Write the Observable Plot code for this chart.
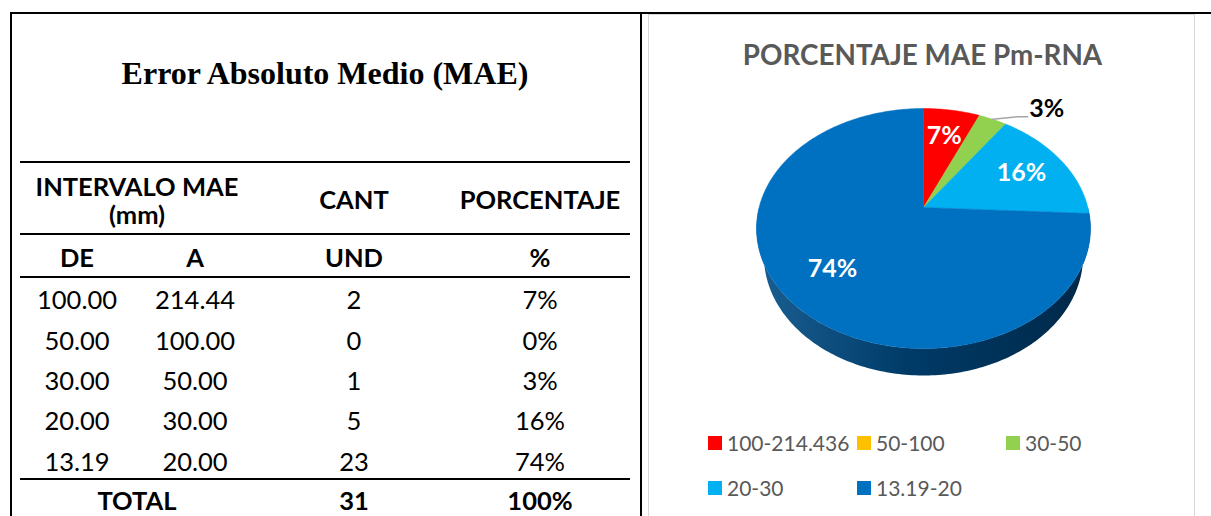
<!DOCTYPE html>
<html><head><meta charset="utf-8">
<script src="https://cdn.jsdelivr.net/npm/d3@7"></script>
<script src="https://cdn.jsdelivr.net/npm/@observablehq/plot@0.6"></script>
<style>
body{margin:0;background:#fff;width:1211px;height:516px;overflow:hidden;position:relative;font-family:Lato,"Open Sans",sans-serif;}
.hl{position:absolute;background:#000;}
.cell{position:absolute;width:260px;margin-left:-130px;text-align:center;line-height:30px;height:30px;margin-top:-15px;font-size:25.5px;color:#000;white-space:nowrap;}
.b{font-weight:bold;}
#title{position:absolute;left:10px;width:630px;top:53px;text-align:center;font-family:"Liberation Serif","Times New Roman",serif;font-weight:bold;font-size:32px;line-height:40px;}
#ptitle{position:absolute;left:650px;width:545px;top:39px;line-height:32px;text-align:center;font-weight:bold;font-size:27.8px;color:#595959;}
.lg{position:absolute;font-size:21px;color:#595959;line-height:24px;height:24px;margin-top:-12px;white-space:nowrap;}
.sw{position:absolute;width:14px;height:14px;margin-top:-7px;}
</style></head><body>
<script>
// ---------- data ----------
const intervalFrom = ["100.00","50.00","30.00","20.00","13.19"];
const intervalTo   = ["214.44","100.00","50.00","30.00","20.00"];
const counts       = [2, 0, 1, 5, 23];
const percents     = ["7%","0%","3%","16%","74%"];
const totalCount   = 31;
const totalPercent = "100%";
const legendLabels = ["100-214.436","50-100","30-50","20-30","13.19-20"];
const sliceColors  = ["#FF0000","#FFC000","#92D050","#00B0F0","#0070C0"];
const tableTitle   = "Error Absoluto Medio (MAE)";
const chartTitle   = "PORCENTAJE MAE Pm-RNA";
const headers      = {interval1:"INTERVALO MAE", interval2:"(mm)", cant:"CANT", pct:"PORCENTAJE", de:"DE", a:"A", und:"UND", pctU:"%", total:"TOTAL"};

// ---------- layout helpers ----------
const body = document.body;
function el(tag, cls, style, text){
  const e = document.createElement(tag);
  if (cls) e.className = cls;
  Object.assign(e.style, style||{});
  if (text!=null) e.textContent = text;
  body.appendChild(e); return e;
}
// frame lines
el("div","hl",{left:"10px",top:"12px",width:"1201px",height:"2px"});
el("div","hl",{left:"10px",top:"12px",width:"2px",height:"504px"});
el("div","hl",{left:"640px",top:"12px",width:"2px",height:"504px"});
[161, 233, 276, 478].forEach(y=>el("div","hl",{left:"20px",top:y+"px",width:"610px",height:"2px"}));
// chart panel border
el("div","",{position:"absolute",left:"648px",top:"14px",width:"547px",height:"520px",border:"1.5px solid #d9d9d9",boxSizing:"border-box"});

// table text
const t = el("div","",{}); t.id="title"; t.textContent = tableTitle;
const colX = [77, 195, 354, 540];
function cell(x,y,text,bold){ el("div","cell"+(bold?" b":""),{left:x+"px",top:y+"px"},text); }
cell(137,186,headers.interval1,true);
cell(137,214,headers.interval2,true);
cell(colX[2],199,headers.cant,true);
cell(colX[3],199,headers.pct,true);
cell(colX[0],257,headers.de,true);
cell(colX[1],257,headers.a,true);
cell(colX[2],257,headers.und,true);
cell(colX[3],257,headers.pctU,true);
const rowY = [299, 340, 380, 420, 461];
intervalFrom.forEach((v,i)=>{
  cell(colX[0],rowY[i],v);
  cell(colX[1],rowY[i],intervalTo[i]);
  cell(colX[2],rowY[i],String(counts[i]));
  cell(colX[3],rowY[i],percents[i]);
});
cell(137,500,headers.total,true);
cell(colX[2],500,String(totalCount),true);
cell(colX[3],500,totalPercent,true);

// chart title
const pt = el("div","",{}); pt.id="ptitle"; pt.textContent = chartTitle;

// ---------- 3D pie geometry (perspective projection of a tilted disc) ----------
const K=164.4, SA=0.7075, CA=0.7067, RD=0.2476, DEPTH=0.257;
function proj(theta, r, level){
  const X=r*Math.sin(theta), Z=r*Math.cos(theta), Y=level;
  const dn=1+RD*(Z*CA - Y*SA);
  return {x:K*X/dn, y:K*(Y*CA+Z*SA)/dn};
}
const total = d3.sum(counts);
let acc = 0;
const slices = counts.map((c,i)=>{
  const a0 = acc/total*2*Math.PI; acc += c; const a1 = acc/total*2*Math.PI;
  return {i, c, a0, a1, mid:(a0+a1)/2, frac:c/total, color:sliceColors[i], label:percents[i]};
});
function arcPts(a0,a1,r,level){
  const n = Math.max(2, Math.ceil((a1-a0)/(Math.PI/180)));
  return d3.range(n+1).map(k=>proj(a0+(a1-a0)*k/n, r, level));
}
const topPolys = slices.filter(s=>s.c>0).map(s=>({s, pts:[{x:0,y:0}, ...arcPts(s.a0,s.a1,1,0), {x:0,y:0}]}));
const sidePolys = slices.filter(s=>s.c>0).map(s=>{
  const lo = Math.max(s.a0, Math.PI/2), hi = Math.min(s.a1, 3*Math.PI/2);
  if (hi<=lo) return null;
  return {s, pts:[...arcPts(lo,hi,1,0), ...arcPts(lo,hi,1,-DEPTH).reverse()]};
}).filter(Boolean);
const shadowPts = arcPts(0, 2*Math.PI, 1.0, -DEPTH-0.03);

const inside = slices.filter(s=>s.c>0 && s.frac>=0.05).map(s=>({...proj(s.mid,0.7,0), label:s.label}));
const outside = slices.filter(s=>s.c>0 && s.frac<0.05).map(s=>{
  const L = proj(s.mid+12.4*Math.PI/180, 1.33, 0);
  const e = proj(s.mid, 1.0, 0);
  return {L, label:s.label, leader:[e, {x:L.x-29,y:L.y-8}, {x:L.x-19,y:L.y-8}]};
});

const W=545, H=320, VX=273, VY=127;
const marks = [
  Plot.line(shadowPts,{x:"x",y:d=>d.y-2,fill:"#a0a0a0",stroke:"none",fillOpacity:0.45,ariaLabel:"shadow"}),
  ...sidePolys.map(p=>Plot.line(p.pts,{x:"x",y:"y",fill:`url(#side${p.s.i})`,stroke:"none"})),
  ...topPolys.map(p=>Plot.line(p.pts,{x:"x",y:"y",fill:p.s.color,stroke:p.s.color,strokeWidth:0.5})),
  Plot.text(inside,{x:"x",y:"y",text:"label",fill:"white",fontSize:25,fontWeight:"bold",fontFamily:"Lato"}),
  ...outside.map(o=>Plot.line(o.leader,{x:"x",y:"y",stroke:"#a6a6a6",strokeWidth:1.5})),
  Plot.text(outside,{x:d=>d.L.x,y:d=>d.L.y,text:"label",fill:"black",fontSize:25,fontWeight:"bold",fontFamily:"Lato"})
];
const svg = Plot.plot({
  width:W, height:H, margin:0,
  x:{domain:[-VX, W-VX], range:[0,W], axis:null},
  y:{domain:[VY-H, VY], range:[H,0], axis:null},
  style:{background:"transparent", overflow:"visible"},
  marks
});
// gradients & blur filter
const NS="http://www.w3.org/2000/svg";
const defs=document.createElementNS(NS,"defs");
slices.forEach(s=>{
  const g=document.createElementNS(NS,"linearGradient");
  g.setAttribute("id","side"+s.i); g.setAttribute("x1","0"); g.setAttribute("x2","1"); g.setAttribute("y1","0"); g.setAttribute("y2","0");
  [[0,d3.interpolateRgb(s.color,"#3a4a5a")(0.45)],[0.45,d3.interpolateRgb(s.color,"#001020")(0.55)],[1,d3.interpolateRgb(s.color,"#001020")(0.75)]].forEach(([o,c])=>{
    const st=document.createElementNS(NS,"stop"); st.setAttribute("offset",o); st.setAttribute("stop-color",c); g.appendChild(st);
  });
  defs.appendChild(g);
});
const f=document.createElementNS(NS,"filter"); f.setAttribute("id","blur"); f.setAttribute("x","-20%"); f.setAttribute("y","-20%"); f.setAttribute("width","140%"); f.setAttribute("height","140%");
const fb=document.createElementNS(NS,"feGaussianBlur"); fb.setAttribute("stdDeviation","4"); f.appendChild(fb); defs.appendChild(f);
svg.insertBefore(defs, svg.firstChild);
const sh = svg.querySelector('[aria-label="shadow"]'); if (sh) sh.setAttribute("filter","url(#blur)");
svg.id="chart";
svg.style.position="absolute"; svg.style.left="650px"; svg.style.top="80px";
body.appendChild(svg);

// legend
const lgX=[708,857,1006], lgY=[443,488];
legendLabels.forEach((lab,i)=>{
  const x=lgX[i%3], y=lgY[Math.floor(i/3)];
  el("div","sw",{left:x+"px",top:y+"px",background:sliceColors[i]});
  el("div","lg",{left:(x+19)+"px",top:y+"px"},lab);
});
</script>
</body></html>
